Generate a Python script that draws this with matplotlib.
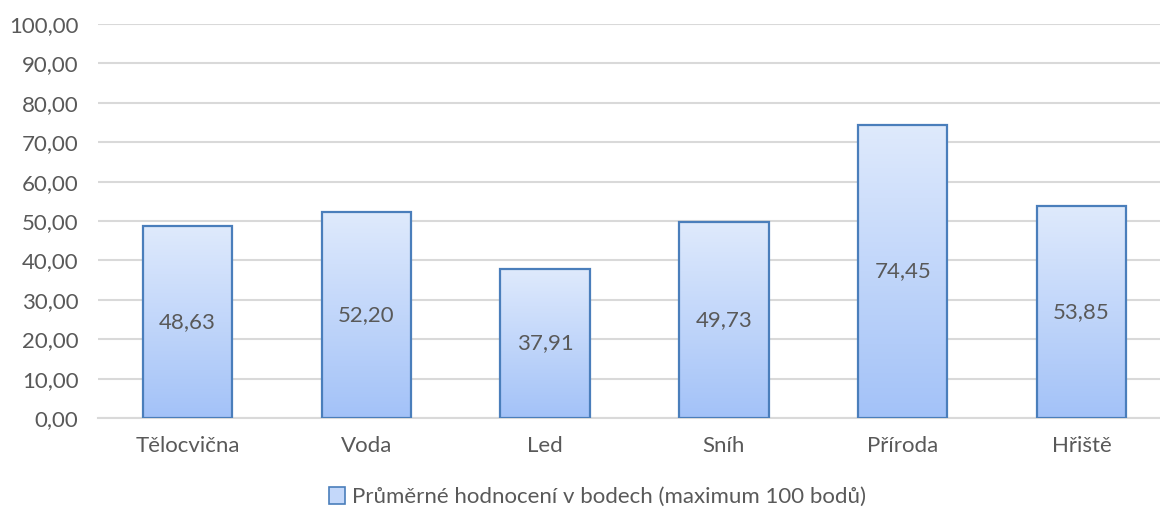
import numpy as np
import matplotlib.pyplot as plt
from matplotlib.patches import Patch
from matplotlib.ticker import FuncFormatter

categories = ["Tělocvična", "Voda", "Led", "Sníh", "Příroda", "Hřiště"]
values = [48.63, 52.20, 37.91, 49.73, 74.45, 53.85]
series_name = "Průměrné hodnocení v bodech (maximum 100 bodů)"

plt.rcParams['font.family'] = ['Lato', 'DejaVu Sans']
text_color = "#595959"
grid_color = "#d9d9d9"
edge_color = "#4a7ebb"
top_color = np.array([0xdf, 0xea, 0xfc]) / 255
bottom_color = np.array([0xa3, 0xc2, 0xf8]) / 255

fig = plt.figure(figsize=(11.6, 5.11), dpi=100)
ax = fig.add_axes([0.0845, 0.182, 0.925, 0.771])

x = np.arange(len(categories))
width = 0.5

# vertical gradient, top row first
t = np.linspace(0, 1, 256)[:, None]
grad = (top_color * (1 - t) + bottom_color * t)[:, None, :]

bars = ax.bar(x, values, width=width, facecolor="none", edgecolor=edge_color,
              linewidth=1.6, zorder=3)
for b in bars:
    x0, y0 = b.get_x(), b.get_y()
    im = ax.imshow(grad, extent=(x0, x0 + b.get_width(), y0, y0 + b.get_height()),
                   aspect="auto", zorder=2, interpolation="bilinear")
    im.set_clip_path(b)

for xi, v in zip(x, values):
    ax.text(xi, v / 2, f"{v:.2f}".replace(".", ","), ha="center", va="center",
            fontsize=16, color=text_color, zorder=4)

ax.set_xlim(-0.5, len(categories) - 0.5)
ax.set_ylim(0, 100)
ax.set_yticks(np.arange(0, 101, 10))
ax.yaxis.set_major_formatter(FuncFormatter(lambda v, p: f"{v:.2f}".replace(".", ",")))
ax.set_xticks(x)
ax.set_xticklabels(categories)
ax.tick_params(axis="both", length=0, labelsize=16, labelcolor=text_color)
ax.tick_params(axis="x", pad=13)
ax.tick_params(axis="y", pad=14)
ax.grid(axis="y", color=grid_color, linewidth=1.5, zorder=0)
ax.set_axisbelow(True)
for s in ["top", "right", "left"]:
    ax.spines[s].set_visible(False)
ax.spines["bottom"].set_color(grid_color)
ax.spines["bottom"].set_linewidth(1.5)

handle = Patch(facecolor="#c4d8fa", edgecolor=edge_color, linewidth=1.2)
fig.legend([handle], [series_name], loc="center", bbox_to_anchor=(0.515, 0.027),
           frameon=False, fontsize=16, labelcolor=text_color,
           handlelength=0.75, handleheight=0.75, handletextpad=0.3)

fig.savefig("out.png", dpi=100)
